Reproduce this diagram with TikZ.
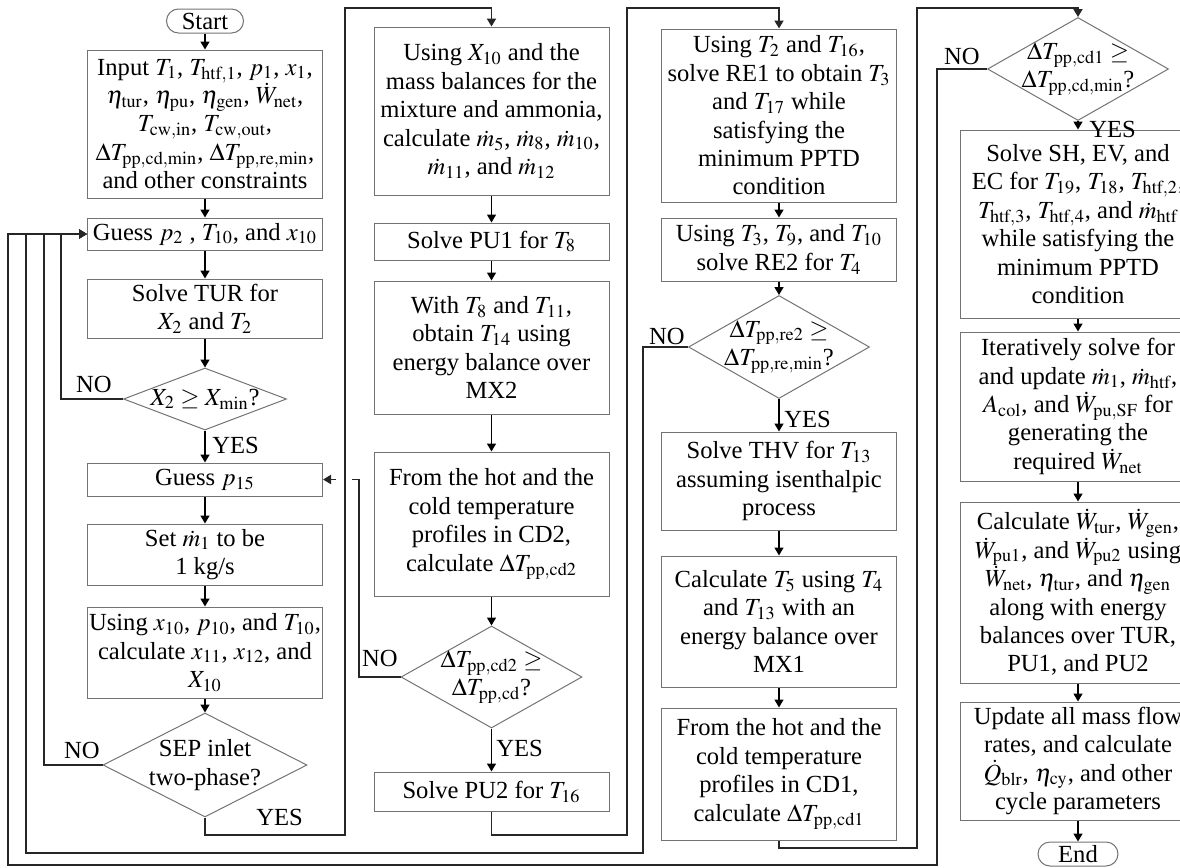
\documentclass[tikz,border=0pt]{standalone}
\usepackage{mathptmx}
\usepackage[no-math]{fontspec}
\setmainfont{Liberation Serif}
\usetikzlibrary{shapes.geometric,arrows.meta}

\tikzset{
    every node/.style={font=\fontsize{12.3}{14.2}\selectfont},
    >={Triangle[width=4.5pt,length=4pt]},
    process/.style={draw=black!55, line width=0.5pt, rectangle, minimum width=117.5pt, align=center, inner sep=1pt},
    decide/.style={draw=black!55, line width=0.5pt, diamond, inner sep=0pt, minimum width=90.5pt, minimum height=51pt},
    terminal/.style={draw=black!55, line width=0.5pt, rounded corners=6pt, minimum height=12pt, inner sep=1pt},
    branch/.style={inner sep=0pt},
    flow/.style={->, line width=0.7pt},
    back/.style={line width=0.9pt, black!85},
}

\begin{document}
\begin{tikzpicture}[x=0.5pt, y=-0.5pt]

\def\colA{205}
\def\colB{491.5}
\def\colC{779}
\def\colD{1078}
\def\laneA{8}
\def\laneB{26}
\def\laneC{44}
\def\laneD{61}

\useasboundingbox (0,0) rectangle (1180,868);

% first column
\node[terminal, minimum width=38.5pt] (start) at (\colA,21) {Start};
\node[process, minimum height=74pt] (input) at (\colA,124)
    {Input $T_1$, $T_{\mathrm{htf},1}$, $p_1$, $x_1$,\\
     $\eta_{\mathrm{tur}}$, $\eta_{\mathrm{pu}}$, $\eta_{\mathrm{gen}}$, $\dot{W}_{\mathrm{net}}$,\\
     $T_{\mathrm{cw,in}}$, $T_{\mathrm{cw,out}}$,\\
     $\Delta T_{\mathrm{pp,cd,min}}$, $\Delta T_{\mathrm{pp,re,min}}$,\\
     and other constraints};
\node[process, minimum height=16pt] (guess2) at (\colA,234) {Guess $p_2$ , $T_{10}$, and $x_{10}$};
\node[process, minimum height=29.5pt] (tur) at (\colA,308.5) {Solve TUR for\\ $X_2$ and $T_2$};
\node[decide, minimum width=81.5pt, minimum height=31pt,
      label=center:{$X_2 \geq X_{\min}$?}] (qX2) at (\colA,399) {};
\node[process, minimum height=16.5pt] (guess15) at (\colA,479.5) {Guess $p_{15}$};
\node[process, minimum height=30.5pt] (setm) at (\colA,554.5) {Set $\dot{m}_1$ to be\\ 1 kg/s};
\node[process, minimum height=45.5pt] (frac) at (\colA,652.5)
    {Using $x_{10}$, $p_{10}$, and $T_{10}$,\\ calculate $x_{11}$, $x_{12}$, and\\ $X_{10}$};
\node[decide, minimum width=102pt, minimum height=52pt,
      label={[align=center]center:{SEP inlet\\ two-phase?}}] (qSEP) at (\colA,765) {};

% second column
\node[process, minimum height=84pt] (mass) at (\colB,111)
    {Using $X_{10}$ and the\\ mass balances for the\\ mixture and ammonia,\\
     calculate $\dot{m}_5$, $\dot{m}_8$, $\dot{m}_{10}$,\\ $\dot{m}_{11}$, and $\dot{m}_{12}$};
\node[process, minimum height=18.5pt] (pu1) at (\colB,241.5) {Solve PU1 for $T_8$};
\node[process, minimum height=66.5pt] (mx2) at (\colB,347.5)
    {With $T_8$ and $T_{11}$,\\ obtain $T_{14}$ using\\ energy balance over\\ MX2};
\node[process, minimum height=72pt] (cd2) at (\colB,524)
    {From the hot and the\\ cold temperature\\ profiles in CD2,\\ calculate $\Delta T_{\mathrm{pp,cd2}}$};
\node[decide, label={[align=center]center:{$\Delta T_{\mathrm{pp,cd2}} \geq$\\ $\Delta T_{\mathrm{pp,cd}}$?}}]
    (qcd2) at (\colB,677) {};
\node[process, minimum height=19.5pt] (pu2) at (\colB,791.5) {Solve PU2 for $T_{16}$};

% third column
\node[process, minimum height=86.5pt] (re1) at (\colC,115.5)
    {Using $T_2$ and $T_{16}$,\\ solve RE1 to obtain $T_3$\\ and $T_{17}$ while\\
     satisfying the\\ minimum PPTD\\ condition};
\node[process, minimum height=31.5pt] (re2) at (\colC,249.5)
    {Using $T_3$, $T_9$, and $T_{10}$\\ solve RE2 for $T_4$};
\node[decide, minimum height=51.5pt,
      label={[align=center]center:{$\Delta T_{\mathrm{pp,re2}} \geq$\\ $\Delta T_{\mathrm{pp,re,min}}$?}}]
    (qre2) at (\colC,347) {};
\node[process, minimum height=49pt] (thv) at (\colC,481)
    {Solve THV for $T_{13}$\\ assuming isenthalpic\\ process};
\node[process, minimum height=65.5pt] (mx1) at (\colC,621.5)
    {Calculate $T_5$ using $T_4$\\ and $T_{13}$ with an\\ energy balance over\\ MX1};
\node[process, minimum height=66pt] (cd1) at (\colC,774)
    {From the hot and the\\ cold temperature\\ profiles in CD1,\\ calculate $\Delta T_{\mathrm{pp,cd1}}$};

% fourth column
\node[decide, minimum height=51.5pt,
      label={[align=center]center:{$\Delta T_{\mathrm{pp,cd1}} \geq$\\ $\Delta T_{\mathrm{pp,cd,min}}$?}}]
    (qcd1) at (\colD,69) {};
\node[process, minimum height=94pt] (hx) at (\colD,224)
    {Solve SH, EV, and\\ EC for $T_{19}$, $T_{18}$, $T_{\mathrm{htf},2}$,\\
     $T_{\mathrm{htf},3}$, $T_{\mathrm{htf},4}$, and $\dot{m}_{\mathrm{htf}}$\\
     while satisfying the\\ minimum PPTD\\ condition};
\node[process, minimum height=74.5pt] (iter) at (\colD,406.5)
    {Iteratively solve for\\ and update $\dot{m}_1$, $\dot{m}_{\mathrm{htf}}$,\\
     $A_{\mathrm{col}}$, and $\dot{W}_{\mathrm{pu,SF}}$ for\\ generating the\\ required $\dot{W}_{\mathrm{net}}$};
\node[process, minimum height=90.5pt] (work) at (\colD,592.5)
    {Calculate $\dot{W}_{\mathrm{tur}}$, $\dot{W}_{\mathrm{gen}}$,\\
     $\dot{W}_{\mathrm{pu1}}$, and $\dot{W}_{\mathrm{pu2}}$ using\\
     $\dot{W}_{\mathrm{net}}$, $\eta_{\mathrm{tur}}$, and $\eta_{\mathrm{gen}}$\\
     along with energy\\ balances over TUR,\\ PU1, and PU2};
\node[process, minimum height=59pt] (update) at (\colD,761)
    {Update all mass flow\\ rates, and calculate\\
     $\dot{Q}_{\mathrm{blr}}$, $\eta_{\mathrm{cy}}$, and other\\ cycle parameters};
\node[terminal, minimum width=40pt] (end) at (\colD,854) {End};

% branch labels
\node[branch, anchor=east] (noX2) at (112,384) {NO};
\node[branch, anchor=west] (yesX2) at (212,445) {YES};
\node[branch, anchor=east] (noSEP) at (100,750) {NO};
\node[branch, anchor=west] (yesSEP) at (256,817) {YES};
\node[branch, anchor=east] (nocd2) at (398,658) {NO};
\node[branch, anchor=west] (yescd2) at (496,748) {YES};
\node[branch, anchor=east] (nore2) at (685,336) {NO};
\node[branch, anchor=west] (yesre2) at (784,419) {YES};
\node[branch, anchor=east] (nocd1) at (980,56) {NO};
\node[branch, anchor=west] (yescd1) at (1089,129) {YES};

% straight steps
\foreach \a/\b in {start/input, input/guess2, guess2/tur, tur/qX2, qX2/guess15,
                   guess15/setm, setm/frac, frac/qSEP,
                   mass/pu1, pu1/mx2, mx2/cd2, cd2/qcd2, qcd2/pu2,
                   re1/re2, re2/qre2, qre2/thv, thv/mx1, mx1/cd1,
                   qcd1/hx, hx/iter, iter/work, work/update, update/end}
    \draw[flow] (\a) -- (\b);

% column to column
\draw[back, ->] (qSEP.south) |- (345,835) |- (\colB,8) -- (mass.north);
\draw[back, ->] (pu2.south) |- (627,835) |- (\colC,8) -- (re1.north);
\draw[back, ->] (cd1.south) |- (917,848) |- (\colD,8) -- (qcd1.north);

% loops back to the first guess
\draw[back, ->] (qX2.west) -| (\laneD,234) -- (guess2.west);
\draw[back, ->] (qSEP.west) -| (\laneC,234) -- (guess2.west);
\draw[back, ->] (qre2.west) -| (643,853) -| (\laneB,234) -- (guess2.west);
\draw[back, ->] (qcd1.west) -| (937,865) -| (\laneA,234) -- (guess2.west);

% loop back to the second guess, broken where it crosses
\coordinate (hopR) at (352,479.5);
\coordinate (hopL) at (336,479.5);
\draw[back] (qcd2.west) -| (359,479.5) -- (hopR);
\draw[back, ->] (hopL) -- (guess15.east);

\end{tikzpicture}
\end{document}
